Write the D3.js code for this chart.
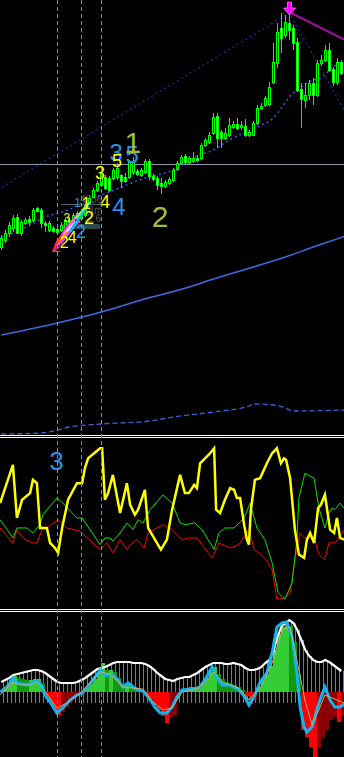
<!DOCTYPE html>
<html>
<head>
<meta charset="utf-8">
<script src="https://cdn.jsdelivr.net/npm/d3@7"></script>
<style>
  html, body { margin: 0; padding: 0; background: #000; }
  svg { display: block; }
</style>
</head>
<body>
<div id="chart"></div>
<script>
// price candles, one per bar
const opens  = [193,200,207,212,223,207,217,221,220,232,230,217,210,212,211,210,213,220,217,222,222,225,237,243,250,255,263,262,262,263,265,263,263,268,269,265,268,279,264,262,257,254,257,260,271,277,284,278,279,282,282,295,298,307,324,308,302,305,313,316,313,314,305,305,317,332,335,336,358,377,412,405,417,412,398,351,340,345,357,345,377,380,390,371,358,378];
const highs  = [205,210,218,225,226,220,222,224,232,233,232,219,219,214,215,218,222,223,227,229,231,237,244,252,259,270,265,264,272,277,266,267,280,283,271,272,281,281,266,264,262,260,263,272,279,285,286,284,288,285,297,302,308,327,327,310,312,322,319,322,319,321,310,319,335,337,344,358,397,417,427,425,430,415,402,357,357,360,362,380,385,395,397,373,382,380];
const lows   = [190,197,203,208,206,204,215,215,218,228,212,208,208,207,205,208,211,215,215,220,220,223,235,242,248,253,250,248,260,260,252,257,261,265,264,263,266,260,259,250,246,252,255,258,269,275,276,276,277,278,280,293,296,305,292,292,300,303,311,310,310,303,303,304,315,330,333,334,356,372,387,402,400,390,348,312,332,340,335,343,374,378,368,354,355,365];
const closes = [202,207,215,222,207,218,220,218,230,229,217,215,217,209,208,215,220,217,225,227,228,235,242,250,257,267,252,250,270,272,259,259,278,278,266,270,279,264,261,255,254,258,261,270,277,283,278,282,282,280,295,300,305,323,302,302,307,315,316,312,315,305,308,317,332,334,342,353,378,408,402,418,410,397,350,341,345,357,345,377,380,390,370,358,378,367];

// main panel overlays: [bar, price]
const fastMA = [[0,203],[5,210],[11,223],[16,229],[22,240],[27,248],[36,262],[43,270],[49,284],[53,290],[57,300],[64,313],[68,322],[70,332],[72,343],[75,353],[78,360],[80,362],[82,370],[85,378]];
const slowMA = [[0,105],[14,117],[25,128],[35,140],[47,153],[53,161],[63,173],[71,183],[78,193],[86,204]];
const lowerMA = [[0,6],[10,7],[14,10],[17,13],[25,16],[37,19],[43,23],[53,28],[62,34],[63,36],[68,35],[71,32],[73,29],[86,30]];
const zigzag = [[-1,250],[72,427],[86,328]];
const pinkTrend = [[72,428],[86,400]];
const levelPrice = 276;
const markerBars = [14, 20, 25];
const arrowBar = 72;

// wave labels: [bar, price, text, colour, size]
const waveLabels = [
  [28.7, 279, "3", "#2b8fe8", 24],
  [32.7, 277, "5", "#2b8fe8", 24],
  [32.9, 287, "1", "#9cbf3c", 30],
  [28.9, 273, "5", "#ffff00", 18],
  [24.7, 261, "3", "#ffff00", 18],
  [25.9, 232, "4", "#ffff00", 18],
  [29.4, 225, "4", "#2b8fe8", 24],
  [39.7, 213, "2", "#9cbf3c", 30],
  [21.2, 231, "1", "#ffff00", 16],
  [21.9, 216, "2", "#ffff00", 18],
  [19.9, 202, "2", "#2b8fe8", 18],
  [17.7, 197, "4", "#ffff00", 16],
  [15.7, 192, "2", "#ffff00", 16],
  [14.0, 188, "2", "#ff33cc", 12],
  [19.1, 233, "1", "#2b8fe8", 12],
  [16.4, 218, "3", "#ffff00", 12]
];
const infoTexts = [[22.5, 237, "4336"], [23.5, 226, "8m"], [23.2, 218, "2.6"]];
const subWaves = [
  ["#ff00ff", [[13.2,190],[14.7,202],[16.2,212],[18.4,222],[20.2,228]]],
  ["#ff66cc", [[13.7,194],[15.9,208],[17.7,218],[19.2,226]]],
  ["#ff2020", [[12.9,188],[14.2,200],[15.4,205]]],
  ["#ffffff", [[15.2,202],[17.2,212],[18.7,218]]],
  ["#ff8c00", [[14.2,195],[15.7,204],[16.7,208]]],
  ["#e040ff", [[14.7,196],[16.7,206],[18.2,215],[19.7,219]]],
  ["#00bfff", [[17.2,208],[19.7,224],[21.7,234]]],
  ["#66ff66", [[18.7,222],[20.4,230],[22.2,238]]]
];

// oscillator panel: [bar, value 0..100]
const oscYellow = [[-0.3,62],[2.9,85],[3.9,53],[5.2,64],[7.2,68],[7.9,76],[8.9,74],[9.7,47],[11.4,47],[12.2,38],[13.4,35],[14.2,32],[15.2,47],[16.7,64],[18.9,74],[20.2,74],[20.9,83],[21.7,89],[24.7,95],[25.2,95],[25.9,64],[26.7,68],[27.9,79],[29.7,56],[31.4,74],[32.2,61],[33.4,55],[34.2,58],[35.9,70],[36.7,47],[38.9,38],[39.9,34],[41.4,40],[42.7,58],[44.7,79],[45.9,68],[46.9,68],[48.2,73],[48.9,71],[49.7,86],[52.2,92],[53.2,95],[53.7,58],[54.7,56],[55.9,64],[57.2,71],[58.2,70],[58.9,65],[59.7,65],[60.7,49],[61.4,40],[61.9,37],[62.4,58],[63.4,76],[64.7,77],[66.4,86],[67.7,92],[68.9,95],[69.9,86],[70.7,89],[71.2,88],[72.2,77],[73.4,46],[74.4,31],[75.7,29],[76.4,40],[77.2,44],[78.2,38],[79.2,59],[79.9,61],[80.9,67],[81.4,59],[82.2,46],[83.2,44],[83.9,53],[84.7,41],[85.7,40]];
const oscGreen = [[-0.3,52],[2.9,41],[3.9,47],[6.4,47],[7.9,44],[9.7,49],[10.4,55],[13.9,65],[15.4,62],[18.9,53],[20.2,53],[24.7,37],[25.9,41],[27.2,41],[27.9,39],[29.7,44],[31.4,50],[32.9,46],[34.2,52],[35.4,50],[37.2,58],[40.4,67],[42.7,62],[44.7,50],[45.9,49],[48.4,50],[50.2,46],[53.2,34],[54.4,44],[55.9,47],[58.2,47],[60.7,53],[62.2,62],[63.9,47],[65.9,40],[67.7,26],[69.2,8],[70.9,4],[72.7,14],[73.9,40],[74.4,65],[75.9,80],[78.2,77],[79.4,59],[80.9,47],[81.9,56],[82.7,59],[83.4,58],[84.7,62],[85.7,59]];
const oscRed = [[-0.3,47],[2.9,38],[3.9,46],[5.4,41],[7.7,38],[8.9,38],[10.2,46],[11.4,47],[14.2,52],[16.4,47],[19.7,45],[24.7,34],[26.4,38],[27.9,32],[29.7,40],[31.4,34],[32.7,38],[33.9,40],[35.7,35],[36.7,44],[38.9,47],[40.4,49],[42.7,46],[45.2,40],[46.9,41],[48.9,41],[50.2,37],[52.7,29],[54.4,38],[57.2,35],[59.4,37],[61.9,46],[63.2,34],[64.4,32],[65.9,29],[67.7,22],[68.9,4],[70.9,5],[72.2,8],[73.4,28],[74.7,44],[75.7,41],[78.2,41],[79.4,31],[80.9,28],[81.9,38],[83.4,38],[84.4,41],[85.7,46]];
const oscLabel = [13.8, 82, "3", "#2b8fe8", 26];

// bottom panel, one value per bar
const histValues = [2,5,12,16,14,13,12,12,13,13,8,-5,-12,-18,-23,-20,-15,-10,-6,-3,-1,4,8,13,20,29,22,22,20,14,8,9,8,5,3,1,-3,-8,-13,-18,-24,-31,-25,-23,-4,3,4,5,5,6,9,14,20,25,18,13,10,8,7,5,2,-4,-12,-7,5,12,18,26,42,58,65,68,66,50,18,-38,-45,-55,-65,-56,-45,-38,-28,-25,-30,-23];
const envelope = [10,12,14,17,18,19,20,21,22,22,21,19,16,13,10,9,9,9,9,10,12,14,17,20,23,24,25,27,29,30,30,30,30,29,29,29,28,26,23,19,16,13,12,11,13,14,15,15,17,19,22,25,27,29,29,29,28,28,29,28,27,24,22,22,23,25,29,32,40,55,65,69,72,69,62,52,42,36,32,30,30,32,30,27,24,21];
const envelopeBase = -11;
const macdMain = [[-0.3,0],[1.4,5],[2.9,14],[3.9,9],[6.4,7],[7.7,9],[8.4,11],[9.7,9],[10.9,-3],[12.2,-10],[13.9,-21],[15.4,-16],[17.2,-8],[18.9,-3],[20.2,-1],[21.4,4],[22.9,12],[24.7,22],[25.9,17],[27.9,17],[29.2,12],[30.4,5],[31.7,9],[32.9,5],[34.2,2],[35.4,1],[36.7,-5],[38.4,-15],[39.7,-21],[41.4,-21],[42.7,-15],[43.9,-5],[45.2,2],[47.7,3],[49.4,4],[50.9,12],[52.7,25],[53.9,14],[55.2,7],[57.2,7],[59.4,2],[60.9,-5],[61.9,-13],[63.2,-5],[64.7,10],[66.4,19],[67.7,39],[68.9,65],[70.2,69],[71.4,70],[72.7,55],[73.9,19],[74.7,-15],[75.7,-35],[76.4,-40],[77.7,-35],[79.4,-11],[80.9,5],[82.2,-8],[83.4,-15],[84.7,-15],[85.7,-12]];
const macdSignal = [[-0.3,-3],[2.9,10],[4.7,7],[7.2,7],[8.9,10],[10.4,4],[13.9,-16],[16.4,-11],[19.7,-1],[24.7,20],[27.2,18],[30.4,5],[35.4,3],[37.9,-10],[40.4,-18],[42.7,-16],[45.2,0],[49.4,4],[53.2,20],[55.2,10],[59.4,4],[61.9,-8],[65.2,7],[67.7,29],[70.2,62],[72.2,65],[73.9,32],[75.9,-8],[77.7,-33],[79.7,-15],[80.9,-3],[82.7,-6],[85.7,-11]];

const W = 344, H = 757;
const main = { top: 0, bottom: 435 };
const osc = { top: 438, bottom: 609 };
const low = { top: 612, bottom: 757 };

const x = d3.scaleLinear().domain([0, 85]).range([1.3, 341.3]);
const yMain = d3.scaleLinear().domain([5, 440]).range([435, 0]);
const yOsc = d3.scaleLinear().domain([0, 100]).range([606, 440]);
const yLow = d3.scaleLinear().domain([-65, 80]).range([757, 612]);
const px = k => Math.floor(x(k)) + 0.5;

const svg = d3.select('#chart').append('svg')
  .attr('width', W).attr('height', H)
  .style('background', '#000');

const defs = svg.append('defs');
[['clipMain', main], ['clipOsc', osc], ['clipLow', low]].forEach(([id, p]) => {
  defs.append('clipPath').attr('id', id)
    .append('rect').attr('x', 0).attr('y', p.top).attr('width', W).attr('height', p.bottom - p.top);
});

const font = '"Liberation Sans", Arial, sans-serif';

// ---------- main panel ----------
const gMain = svg.append('g').attr('clip-path', 'url(#clipMain)');
const lineMain = d3.line().x(d => x(d[0])).y(d => yMain(d[1]));

gMain.append('line')
  .attr('x1', 0).attr('x2', W)
  .attr('y1', Math.round(yMain(levelPrice)) + 0.5).attr('y2', Math.round(yMain(levelPrice)) + 0.5)
  .attr('stroke', '#8a98aa').attr('stroke-width', 1);

gMain.append('path').datum(zigzag)
  .attr('d', lineMain).attr('fill', 'none')
  .attr('stroke', '#1e2ea0').attr('stroke-width', 1.2).attr('stroke-dasharray', '2,3');

gMain.append('path').datum(pinkTrend)
  .attr('d', lineMain).attr('fill', 'none')
  .attr('stroke', '#a0109c').attr('stroke-width', 2);

gMain.append('path').datum(slowMA)
  .attr('d', lineMain.curve(d3.curveMonotoneX)).attr('fill', 'none')
  .attr('stroke', '#4169e1').attr('stroke-width', 1.5);

gMain.append('path').datum(lowerMA)
  .attr('d', lineMain.curve(d3.curveMonotoneX)).attr('fill', 'none')
  .attr('stroke', '#3d62e0').attr('stroke-width', 1.3).attr('stroke-dasharray', '5,3');

gMain.append('path').datum(fastMA)
  .attr('d', lineMain.curve(d3.curveMonotoneX)).attr('fill', 'none')
  .attr('stroke', '#3657e8').attr('stroke-width', 1.5).attr('stroke-dasharray', '2,3');

// info block behind the cluster
gMain.append('line')
  .attr('x1', x(15)).attr('x2', x(24.7))
  .attr('y1', Math.round(yMain(236)) + 0.5).attr('y2', Math.round(yMain(236)) + 0.5)
  .attr('stroke', '#4f6070');
gMain.append('rect')
  .attr('x', x(15)).attr('width', x(24.7) - x(15))
  .attr('y', yMain(216)).attr('height', yMain(211) - yMain(216))
  .attr('fill', '#2c4a4a');
gMain.selectAll('text.info').data(infoTexts).enter().append('text')
  .attr('class', 'info')
  .attr('x', d => x(d[0])).attr('y', d => yMain(d[1]))
  .attr('text-anchor', 'middle')
  .attr('font-family', font).attr('font-size', 10)
  .attr('fill', '#4b5863')
  .text(d => d[2]);

// candles
const candleIdx = d3.range(opens.length);
gMain.selectAll('line.wick').data(candleIdx).enter().append('line')
  .attr('class', 'wick')
  .attr('x1', i => px(i)).attr('x2', i => px(i))
  .attr('y1', i => yMain(highs[i])).attr('y2', i => yMain(lows[i]))
  .attr('stroke', '#00ff00').attr('stroke-width', 1);

gMain.selectAll('rect.body').data(candleIdx).enter().append('rect')
  .attr('class', 'body')
  .attr('x', i => px(i) - 1)
  .attr('width', 2)
  .attr('y', i => Math.round(yMain(Math.max(opens[i], closes[i]))) + 0.5)
  .attr('height', i => Math.max(1, Math.round(Math.abs(yMain(opens[i]) - yMain(closes[i])))))
  .attr('fill', i => closes[i] >= opens[i] ? '#000' : '#fff')
  .attr('stroke', '#00ff00').attr('stroke-width', 1);

// sub-wave squiggles
subWaves.forEach(([color, pts]) => {
  gMain.append('path').datum(pts)
    .attr('d', d3.line().x(d => x(d[0])).y(d => yMain(d[1])))
    .attr('fill', 'none').attr('stroke', color).attr('stroke-width', 2.5)
    .attr('stroke-linejoin', 'round');
});

gMain.selectAll('text.wave').data(waveLabels).enter().append('text')
  .attr('class', 'wave')
  .attr('x', d => x(d[0])).attr('y', d => yMain(d[1]))
  .attr('text-anchor', 'middle')
  .attr('font-family', font).attr('font-size', d => d[4])
  .attr('fill', d => d[3])
  .text(d => d[2]);

// sell arrow at the top bar
const ax = px(arrowBar), ay = yMain(highs[arrowBar]) + 5;
gMain.append('path')
  .attr('d', `M${ax - 2},${ay - 13} L${ax + 2},${ay - 13} L${ax + 2},${ay - 7} L${ax + 6},${ay - 7} L${ax},${ay} L${ax - 6},${ay - 7} L${ax - 2},${ay - 7} Z`)
  .attr('fill', '#ff00ff').attr('stroke', '#ff66ff').attr('stroke-width', 0.8);

// ---------- oscillator panel ----------
const gOsc = svg.append('g').attr('clip-path', 'url(#clipOsc)');
const lineOsc = d3.line().x(d => x(d[0])).y(d => yOsc(d[1]));
gOsc.append('path').datum(oscRed).attr('d', lineOsc)
  .attr('fill', 'none').attr('stroke', '#ff0000').attr('stroke-width', 1);
gOsc.append('path').datum(oscGreen).attr('d', lineOsc)
  .attr('fill', 'none').attr('stroke', '#00e600').attr('stroke-width', 1);
gOsc.append('path').datum(oscYellow).attr('d', lineOsc)
  .attr('fill', 'none').attr('stroke', '#ffff00').attr('stroke-width', 2.5);
gOsc.append('text')
  .attr('x', x(oscLabel[0])).attr('y', yOsc(oscLabel[1]))
  .attr('text-anchor', 'middle')
  .attr('font-family', font).attr('font-size', oscLabel[4])
  .attr('fill', oscLabel[3])
  .text(oscLabel[2]);

// ---------- lower panel ----------
const gLow = svg.append('g').attr('clip-path', 'url(#clipLow)');
gLow.selectAll('line.env').data(envelope).enter().append('line')
  .attr('class', 'env')
  .attr('x1', (d, i) => px(i) + 2).attr('x2', (d, i) => px(i) + 2)
  .attr('y1', d => yLow(d)).attr('y2', yLow(envelopeBase))
  .attr('stroke', '#7070cc').attr('stroke-width', 1);

const histColor = (v, i) => {
  const prev = i > 0 ? histValues[i - 1] : v;
  if (v >= 0) return v >= prev ? '#33cc33' : '#119a11';
  return v <= prev ? '#ff0000' : '#8b0000';
};
gLow.selectAll('rect.hist').data(histValues).enter().append('rect')
  .attr('class', 'hist')
  .attr('x', (d, i) => Math.floor(x(i)))
  .attr('width', 4)
  .attr('y', d => yLow(Math.max(0, d)))
  .attr('height', d => Math.abs(yLow(d) - yLow(0)))
  .attr('fill', histColor);

const lineLow = d3.line().x(d => x(d[0])).y(d => yLow(d[1]));
gLow.append('path').datum(envelope.map((v, i) => [i, v])).attr('d', lineLow)
  .attr('fill', 'none').attr('stroke', '#ffffff').attr('stroke-width', 2.2);
gLow.append('path').datum(macdMain).attr('d', lineLow)
  .attr('fill', 'none').attr('stroke', '#12b4f0').attr('stroke-width', 3);
gLow.append('path').datum(macdSignal).attr('d', lineLow)
  .attr('fill', 'none').attr('stroke', '#c8ac6c').attr('stroke-width', 1);

// ---------- panel separators and bar markers ----------
[435.5, 437.5, 609.5, 611.5].forEach(yy => {
  svg.append('line').attr('x1', 0).attr('x2', W).attr('y1', yy).attr('y2', yy)
    .attr('stroke', '#ffffff').attr('stroke-width', 1);
});

svg.selectAll('line.marker').data(markerBars).enter().append('line')
  .attr('class', 'marker')
  .attr('x1', k => px(k)).attr('x2', k => px(k))
  .attr('y1', 0).attr('y2', H)
  .attr('stroke', '#8c8c8c').attr('stroke-width', 1).attr('stroke-dasharray', '4,3');
</script>
</body>
</html>
